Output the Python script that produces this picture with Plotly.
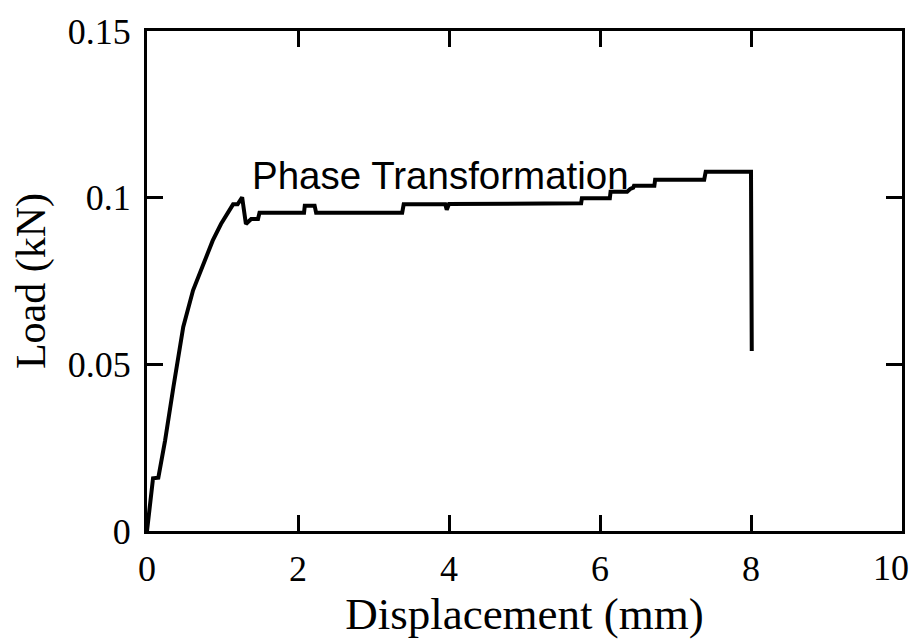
import plotly.graph_objects as go

# Load-displacement curve
disp_mm = [0.0, 0.08, 0.15, 0.24, 0.35, 0.48, 0.61, 0.74, 0.87, 0.98, 1.07, 1.14,
           1.20, 1.26, 1.31, 1.33, 1.38, 1.47, 1.49, 2.08, 2.09, 2.22, 2.24, 3.38,
           3.40, 3.95, 3.97, 4.00, 5.75, 5.76, 6.13, 6.14, 6.36, 6.40, 6.44, 6.45,
           6.72, 6.73, 7.38, 7.40, 8.00, 8.01]
load_kN = [0.0, 0.0158, 0.0160, 0.0272, 0.0432, 0.0612, 0.0722, 0.0800, 0.0871, 0.0921, 0.0956, 0.0980,
           0.0980, 0.1001, 0.0921, 0.0925, 0.0936, 0.0936, 0.0955, 0.0955, 0.0976, 0.0976, 0.0955, 0.0955,
           0.0980, 0.0980, 0.0964, 0.0981, 0.0983, 0.0998, 0.0998, 0.1018, 0.1018, 0.1026, 0.1030, 0.1036,
           0.1036, 0.1054, 0.1054, 0.1078, 0.1078, 0.0540]

x_ticks = [0, 2, 4, 6, 8, 10]
x_tick_labels = ["0", "2", "4", "6", "8", "10"]
y_ticks = [0, 0.05, 0.1, 0.15]
y_tick_labels = ["0", "0.05", "0.1", "0.15"]

annotation_text = "Phase Transformation"

fig = go.Figure()
fig.add_trace(go.Scatter(
    x=disp_mm, y=load_kN, mode="lines",
    line=dict(color="black", width=4),
    showlegend=False, hoverinfo="skip",
))

serif = "Liberation Serif, Times New Roman, serif"
tick_font = dict(family=serif, size=36, color="black")

# the last x tick label sits at the figure's right edge; it is drawn as a label
# anchored to its tick value so it stays fully visible, like in the reference
shown_x_labels = x_tick_labels[:-1] + [""]

fig.update_layout(
    width=915, height=639,
    margin=dict(l=147, r=10, t=31, b=108),
    paper_bgcolor="white", plot_bgcolor="white",
    xaxis=dict(
        range=[0, 10], tickvals=x_ticks, ticktext=shown_x_labels,
        showgrid=False, zeroline=False,
        showline=True, linecolor="black", linewidth=3, mirror="ticks",
        ticks="inside", ticklen=16, tickwidth=3, tickcolor="black",
        tickfont=tick_font,
        ticklabelstandoff=4,
        title=dict(text="Displacement (mm)", font=dict(family=serif, size=45, color="black"), standoff=6),
    ),
    yaxis=dict(
        range=[0, 0.15], tickvals=y_ticks, ticktext=y_tick_labels,
        showgrid=False, zeroline=False,
        showline=True, linecolor="black", linewidth=3, mirror="ticks",
        ticks="inside", ticklen=16, tickwidth=3, tickcolor="black",
        tickfont=tick_font,
        ticklabelstandoff=6,
        title=dict(text="Load (kN)", font=dict(family=serif, size=42, color="black"), standoff=10),
    ),
    annotations=[
        dict(
            x=1.37, y=0.1066, xref="x", yref="y", xanchor="left", yanchor="middle",
            text=annotation_text, showarrow=False,
            font=dict(family="Liberation Sans, Arial, sans-serif", size=38.5, color="black"),
        ),
        dict(
            x=x_ticks[-1], y=0, xref="x", yref="paper", xanchor="right", yanchor="top",
            xshift=9, yshift=-15,
            text=x_tick_labels[-1], showarrow=False, font=tick_font,
        ),
    ],
)

fig.write_html(
    "out.html",
    config={"displayModeBar": False},
    post_script="document.body.style.margin='0';document.body.style.overflow='hidden';",
)
